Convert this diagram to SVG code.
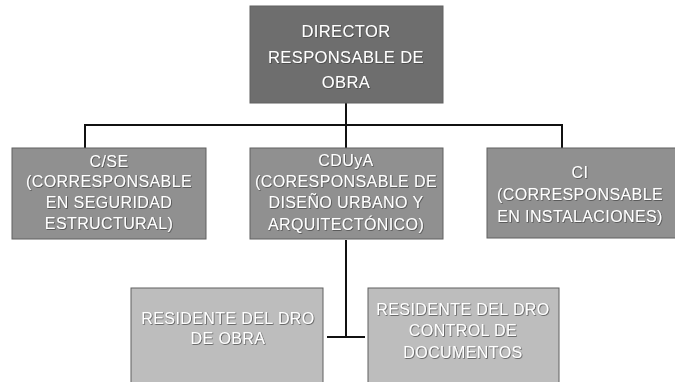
<svg xmlns="http://www.w3.org/2000/svg" width="675" height="382" viewBox="0 0 675 382">
<defs>
<filter id="sh" x="-5%" y="-20%" width="110%" height="140%">
<feDropShadow dx="0.7" dy="0.7" stdDeviation="0.6" flood-color="#3a3a3a" flood-opacity="0.9"/>
</filter>
</defs>
<style>
.box{stroke:#606060;stroke-width:1}
.top{fill:#6e6e6e}
.mid{fill:#909090}
.low{fill:#bdbdbd}
text{font-family:"Liberation Sans",Arial,sans-serif;fill:#ffffff;text-anchor:middle;letter-spacing:0.4px;filter:url(#sh)}
.t1{font-size:16.5px}
.t2{font-size:16px}
.conn{stroke:#111;stroke-width:2;fill:none}
</style>
<rect width="675" height="382" fill="#ffffff"/>
<g id="connectors">
<path class="conn" d="M346 103 V125 M85 125 H562 M85 124 V148 M346 125 V148 M562 124 V148"/>
<path class="conn" d="M346 240 V337 M327 337 H365"/>
</g>
<g id="director">
<rect class="box top" x="250" y="6" width="193" height="97"/>
<text class="t1" x="346" y="37">DIRECTOR</text>
<text class="t1" x="346" y="63">RESPONSABLE DE</text>
<text class="t1" x="346" y="88">OBRA</text>
</g>
<g id="cse">
<rect class="box mid" x="12" y="148" width="194" height="91"/>
<text class="t2" x="109" y="167">C/SE</text>
<text class="t2" x="109" y="187">(CORRESPONSABLE</text>
<text class="t2" x="109" y="208">EN SEGURIDAD</text>
<text class="t2" x="109" y="229">ESTRUCTURAL)</text>
</g>
<g id="cduya">
<rect class="box mid" x="250" y="148" width="193" height="91"/>
<text class="t2" x="346" y="166">CDUyA</text>
<text class="t2" x="346" y="187">(CORESPONSABLE DE</text>
<text class="t2" x="346" y="208">DISEÑO URBANO Y</text>
<text class="t2" x="346" y="230">ARQUITECTÓNICO)</text>
</g>
<g id="ci">
<rect class="box mid" x="487" y="148" width="190" height="90"/>
<text class="t2" x="580" y="178">CI</text>
<text class="t2" x="580" y="200">(CORRESPONSABLE</text>
<text class="t2" x="580" y="222">EN INSTALACIONES)</text>
</g>
<g id="residente-obra">
<rect class="box low" x="131" y="288" width="192" height="96"/>
<text class="t2" x="228" y="324">RESIDENTE DEL DRO</text>
<text class="t2" x="228" y="344">DE OBRA</text>
</g>
<g id="residente-documentos">
<rect class="box low" x="368" y="288" width="191" height="96"/>
<text class="t2" x="463" y="315">RESIDENTE DEL DRO</text>
<text class="t2" x="463" y="336">CONTROL DE</text>
<text class="t2" x="463" y="358">DOCUMENTOS</text>
</g>
</svg>
